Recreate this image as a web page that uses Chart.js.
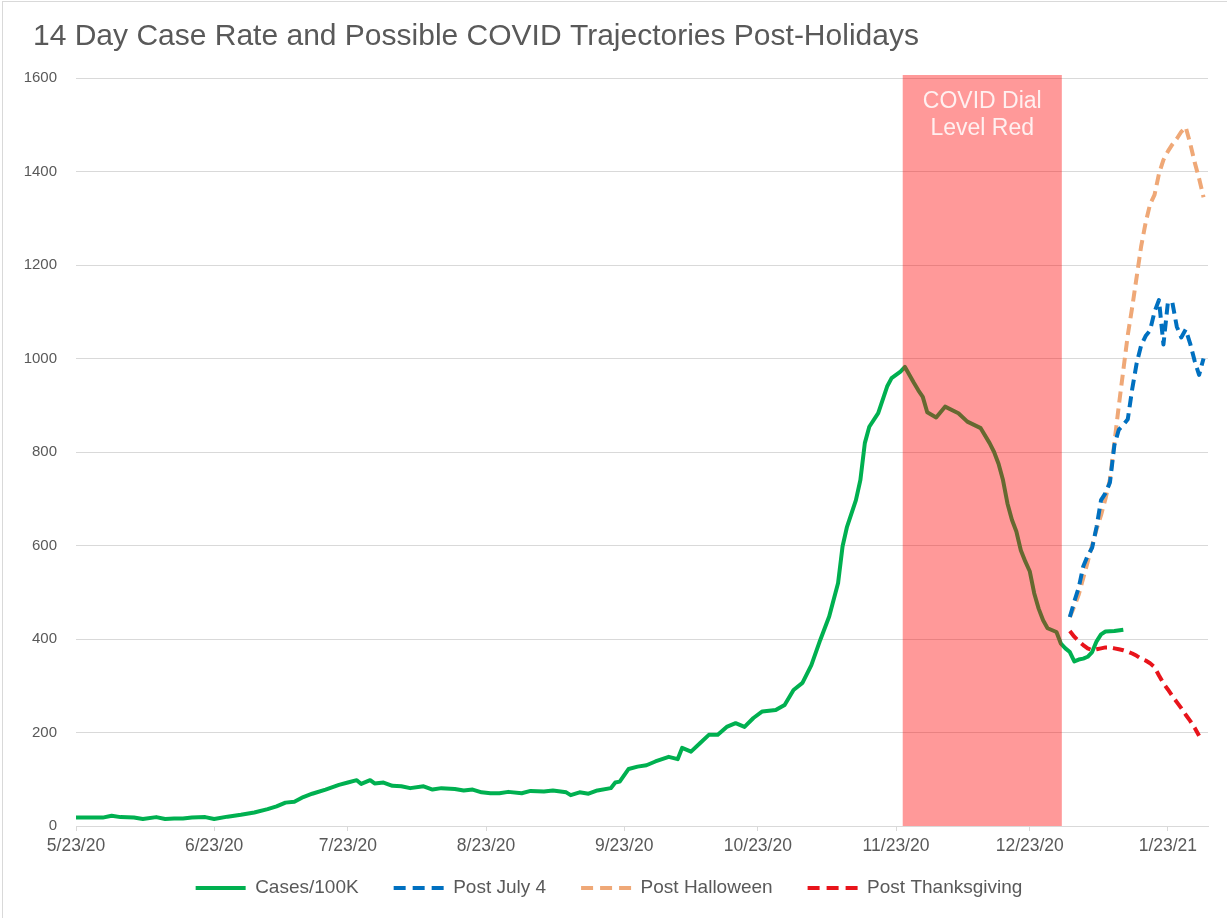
<!DOCTYPE html>
<html>
<head>
<meta charset="utf-8">
<script src="https://cdn.jsdelivr.net/npm/chart.js@4.4.1/dist/chart.umd.min.js"></script>
<style>
  html, body { margin: 0; padding: 0; background: #fff; overflow: hidden; }
  #wrap { position: relative; width: 1227px; height: 918px; }
  #frame { position: absolute; left: 2px; top: 1px; width: 1240px; height: 930px; border: 1px solid #d9d9d9; }
  canvas { position: absolute; left: 0; top: 0; }
</style>
</head>
<body>
<div id="wrap">
  <div id="frame"></div>
  <canvas id="covid-chart" width="1227" height="918"></canvas>
</div>
<script>
// days counted from 5/23/20
var tickDays = [0, 31, 61, 92, 123, 153, 184, 214, 245];
var tickLabels = ["5/23/20", "6/23/20", "7/23/20", "8/23/20", "9/23/20", "10/23/20", "11/23/20", "12/23/20", "1/23/21"];

var caseDays = [0, 3, 6, 8, 10, 13, 15, 18, 20, 22, 24, 26, 29, 31, 34, 37, 40, 43, 45, 47,
  49, 51, 53, 56, 59, 61, 63, 64, 66, 67, 69, 71, 73, 75, 78, 80, 82, 85, 87, 89,
  91, 93, 95, 97, 100, 102, 105, 107, 110, 111, 113, 115, 117, 120, 121, 122, 124, 126, 128, 130,
  133, 135, 136, 138, 140, 142, 144, 146, 148, 150, 152, 154, 157, 159, 161, 163, 165, 167, 169, 171,
  172, 173, 175, 176, 177, 178, 180, 182, 183, 185, 186, 188, 189, 190, 191, 193, 195, 198, 200, 203,
  205, 206, 207, 208, 209, 210, 211, 212, 213, 214, 215, 216, 217, 218, 220, 221, 222, 223, 224, 225,
  226, 227, 228, 229, 230, 231, 233, 235];
var caseValues = [18, 18, 18, 22, 19, 18, 15, 19, 15, 16, 16, 18, 19, 15, 20, 24, 29, 36, 42, 50,
  52, 62, 69, 78, 88, 93, 98, 90, 98, 91, 93, 86, 85, 81, 85, 78, 81, 79, 76, 78,
  72, 70, 70, 73, 70, 75, 74, 76, 72, 66, 72, 69, 76, 81, 93, 95, 122, 127, 130, 138,
  148, 143, 167, 159, 177, 195, 195, 212, 220, 212, 231, 245, 248, 259, 291, 306, 344, 398, 448, 520,
  598, 640, 697, 740, 819, 854, 883, 940, 958, 972, 982, 948, 932, 918, 885, 874, 897, 883, 865, 851,
  819, 800, 775, 740, 690, 655, 630, 590, 566, 545, 498, 465, 440, 423, 415, 390, 380, 372, 352, 356,
  358, 362, 372, 395, 410, 416, 417, 420];

var projDays = [223, 224, 225, 226, 227, 228, 229, 230, 231, 232, 233, 234, 235, 236, 237, 238,
  239, 240, 241, 242, 243, 244, 245, 246, 247, 248, 249, 250, 251, 252, 253];
var july4Values = [447, 480, 510, 555, 578, 595, 640, 697, 712, 735, 815, 848, 858, 870, 935, 990,
  1028, 1048, 1060, 1100, 1125, 1030, 1120, 1120, 1068, 1045, 1062, 1032, 995, 965, 1000];
var halloweenValues = [447, 470, 495, 530, 565, 600, 635, 665, 700, 742, 820, 900, 975, 1050, 1110, 1175,
  1240, 1290, 1330, 1350, 1395, 1425, 1443, 1458, 1470, 1485, 1495, 1460, 1420, 1385, 1345];
var thanksgivingValues = [417, 405, 395, 387, 380, 376, 378, 380, 382, 382, 380, 378, 376, 373, 369, 364,
  358, 354, 348, 340, 322, 305, 292, 278, 265, 252, 238, 225, 210, 193];

var bandStart = 185.5;
var bandEnd = 221.2;
var bandText = ["COVID Dial", "Level Red"];

var FONT = '"Liberation Sans", Arial, sans-serif';
Chart.defaults.font.family = FONT;
Chart.defaults.color = "#595959";

function points(days, values) {
  return values.map(function (v, i) { return { x: days[i], y: v }; });
}

// red dial band, drawn over the lines like the Excel one
var bandPlugin = {
  id: "dialBand",
  afterLayout: function (chart) {
    // title sits further right than the y labels, legend a bit higher than its padding allows
    chart.titleBlock.left = 33;
    chart.legend.top -= 10.5;
    chart.legend.bottom -= 10.5;
  },
  afterDatasetsDraw: function (chart) {
    var ctx = chart.ctx;
    var area = chart.chartArea;
    var left = chart.scales.x.getPixelForValue(bandStart);
    var right = chart.scales.x.getPixelForValue(bandEnd);
    ctx.save();
    ctx.fillStyle = "rgba(255, 0, 0, 0.4)";
    ctx.fillRect(left, area.top - 3, right - left, area.bottom - area.top + 3);
    ctx.fillStyle = "rgba(255, 255, 255, 0.85)";
    ctx.font = "23px " + FONT;
    ctx.textAlign = "center";
    ctx.textBaseline = "middle";
    var cx = (left + right) / 2;
    ctx.fillText(bandText[0], cx, area.top + 24);
    ctx.fillText(bandText[1], cx, area.top + 51);
    ctx.restore();
  }
};

var ctx = document.getElementById("covid-chart").getContext("2d");
var myCovidChart = new Chart(ctx, {
  type: "line",
  data: {
    datasets: [
      {
        label: "Cases/100K",
        data: points(caseDays, caseValues),
        borderColor: "#00B050",
        borderWidth: 4,
      },
      {
        label: "Post July 4",
        data: points(projDays, july4Values),
        borderColor: "#0070C0",
        borderWidth: 4,
        borderDash: [11, 6],
      },
      {
        label: "Post Halloween",
        data: points(projDays, halloweenValues),
        borderColor: "#EFA877",
        borderWidth: 4,
        borderDash: [11, 6],
      },
      {
        label: "Post Thanksgiving",
        data: points(projDays, thanksgivingValues),
        borderColor: "#E8141B",
        borderWidth: 4,
        borderDash: [11, 6],
      }
    ]
  },
  options: {
    responsive: false,
    animation: false,
    elements: {
      point: { radius: 0 },
      line: { tension: 0, borderJoinStyle: "round" }
    },
    layout: {
      padding: { left: 10, right: 19, top: 3, bottom: 0 }
    },
    plugins: {
      title: {
        display: true,
        text: "14 Day Case Rate and Possible COVID Trajectories Post-Holidays",
        align: "start",
        color: "#595959",
        font: { size: 30, weight: "normal" },
        padding: { top: 16, bottom: 23 }
      },
      legend: {
        display: true,
        position: "bottom",
        labels: {
          usePointStyle: true,
          pointStyle: "line",
          pointStyleWidth: 50,
          padding: 35,
          color: "#595959",
          font: { size: 19 },
          generateLabels: function (chart) {
            var items = Chart.defaults.plugins.legend.labels.generateLabels(chart);
            items.forEach(function (item, i) {
              item.lineWidth = 4;
              item.lineDash = chart.data.datasets[i].borderDash ? [12, 7] : [];
            });
            return items;
          }
        }
      },
      tooltip: { enabled: false }
    },
    scales: {
      x: {
        type: "linear",
        min: 0,
        max: 254,
        afterBuildTicks: function (axis) {
          axis.ticks = tickDays.map(function (d) { return { value: d }; });
        },
        afterFit: function (axis) { axis.height = 28; },
        ticks: {
          autoSkip: false,
          maxRotation: 0,
          padding: 6,
          color: "#595959",
          font: { size: 17.5, lineHeight: 1 },
          callback: function (value, index) { return tickLabels[index]; }
        },
        grid: {
          drawOnChartArea: false,
          drawTicks: true,
          tickLength: 5,
          color: "#d9d9d9"
        },
        border: { color: "#d9d9d9" }
      },
      y: {
        min: 0,
        max: 1600,
        afterFit: function (axis) { axis.width = 66; },
        ticks: {
          stepSize: 200,
          padding: 19,
          color: "#595959",
          font: { size: 15 },
          callback: function (value) { return String(value); }
        },
        grid: {
          color: "#d9d9d9",
          drawTicks: false
        },
        border: { display: false }
      }
    }
  },
  plugins: [bandPlugin]
});
</script>
</body>
</html>
